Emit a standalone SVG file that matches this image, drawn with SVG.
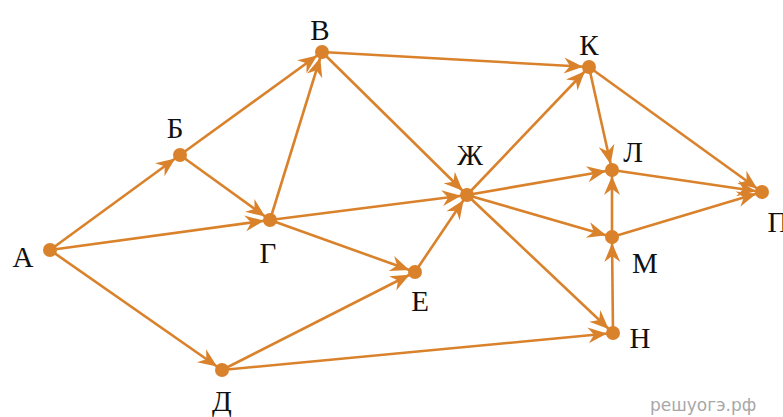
<svg xmlns="http://www.w3.org/2000/svg" width="783" height="417" viewBox="0 0 783 417">
<defs>
<marker id="ah" markerUnits="userSpaceOnUse" markerWidth="26" markerHeight="18" refX="25" refY="9" orient="auto" overflow="visible">
<path d="M0,1 L19,9 L0,17 L6,9 Z" fill="#D9822B"/>
</marker>
<style>
.e{stroke:#D9822B;stroke-width:2.6;fill:none;marker-end:url(#ah)}
.n{fill:#D9822B}
.t{font-family:'Liberation Serif','Tinos','DejaVu Serif',serif;font-size:29px;fill:#111;text-anchor:middle}
.w{font-family:'DejaVu Sans','Liberation Sans',sans-serif;font-size:17px;fill:#a8a8a8}
</style>
</defs>
<rect width="783" height="417" fill="#fff"/>
<g id="edges">
<line class="e" x1="50" y1="250" x2="180" y2="155"/>
<line class="e" x1="50" y1="250" x2="270" y2="220"/>
<line class="e" x1="50" y1="250" x2="222" y2="370"/>
<line class="e" x1="180" y1="155" x2="322" y2="52"/>
<line class="e" x1="180" y1="155" x2="270" y2="220"/>
<line class="e" x1="270" y1="220" x2="322" y2="52"/>
<line class="e" x1="270" y1="220" x2="467" y2="195"/>
<line class="e" x1="270" y1="220" x2="415" y2="272"/>
<line class="e" x1="322" y1="52" x2="589" y2="67"/>
<line class="e" x1="322" y1="52" x2="467" y2="195"/>
<line class="e" x1="222" y1="370" x2="415" y2="272"/>
<line class="e" x1="222" y1="370" x2="613" y2="333"/>
<line class="e" x1="415" y1="272" x2="467" y2="195"/>
<line class="e" x1="467" y1="195" x2="589" y2="67"/>
<line class="e" x1="467" y1="195" x2="612" y2="170"/>
<line class="e" x1="467" y1="195" x2="612" y2="237"/>
<line class="e" x1="467" y1="195" x2="613" y2="333"/>
<line class="e" x1="589" y1="67" x2="612" y2="170"/>
<line class="e" x1="589" y1="67" x2="762" y2="192"/>
<line class="e" x1="612" y1="170" x2="762" y2="192"/>
<line class="e" x1="612" y1="237" x2="612" y2="170"/>
<line class="e" x1="612" y1="237" x2="762" y2="192"/>
<line class="e" x1="613" y1="333" x2="612" y2="237"/>
</g>
<g id="A"><circle class="n" cx="50" cy="250" r="7"/><text class="t" x="23" y="267">А</text></g>
<g id="B"><circle class="n" cx="180" cy="155" r="7"/><text class="t" x="175" y="138">Б</text></g>
<g id="V"><circle class="n" cx="322" cy="52" r="7"/><text class="t" x="320" y="40">В</text></g>
<g id="G"><circle class="n" cx="270" cy="220" r="7"/><text class="t" x="268" y="263">Г</text></g>
<g id="D"><circle class="n" cx="222" cy="370" r="7"/><text class="t" x="222" y="411">Д</text></g>
<g id="E"><circle class="n" cx="415" cy="272" r="7"/><text class="t" x="420" y="311">Е</text></g>
<g id="Zh"><circle class="n" cx="467" cy="195" r="7"/><text class="t" x="470" y="165">Ж</text></g>
<g id="K"><circle class="n" cx="589" cy="67" r="7"/><text class="t" x="589" y="55">К</text></g>
<g id="L"><circle class="n" cx="612" cy="170" r="7"/><text class="t" x="633" y="162">Л</text></g>
<g id="M"><circle class="n" cx="612" cy="237" r="7"/><text class="t" x="645" y="273">М</text></g>
<g id="N"><circle class="n" cx="613" cy="333" r="7"/><text class="t" x="640" y="348">Н</text></g>
<g id="P"><circle class="n" cx="762" cy="192" r="7"/><text class="t" x="778" y="232">П</text></g>
<text class="w" x="650" y="411">решуогэ.рф</text>
</svg>
